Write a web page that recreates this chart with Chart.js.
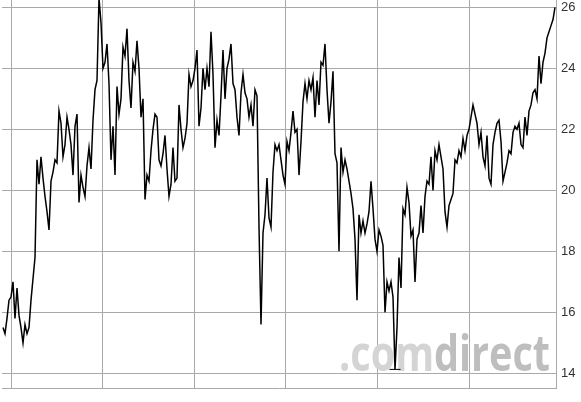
<!DOCTYPE html>
<html>
<head>
<meta charset="utf-8">
<script src="https://cdn.jsdelivr.net/npm/chart.js@4.4.1/dist/chart.umd.min.js"></script>
<style>
  html, body { margin: 0; padding: 0; background: #fff; }
  #chart { display: block; }
</style>
</head>
<body>
<canvas id="chart" width="581" height="402"></canvas>
<script>
// price samples, evenly spaced in time
const prices = [
    15.5, 15.3, 15.8, 16.4, 16.5, 17.0, 15.8, 16.8, 15.9, 15.5,
    15.0, 15.6, 15.3, 15.5, 16.4, 17.1, 17.8, 21.0, 20.2, 21.1,
    20.4, 19.8, 19.3, 18.7, 20.3, 20.6, 21.0, 20.9, 22.6, 22.2,
    21.1, 21.5, 22.4, 22.0, 21.5, 20.5, 22.1, 22.5, 19.6, 20.5,
    20.1, 19.8, 20.8, 21.4, 20.7, 22.3, 23.3, 23.6, 26.3, 25.5,
    24.0, 24.2, 24.8, 23.5, 21.0, 22.1, 20.5, 23.4, 22.5, 23.0,
    24.7, 24.4, 25.3, 23.6, 22.7, 24.2, 23.9, 24.9, 24.0, 22.4,
    23.0, 19.7, 20.5, 20.3, 21.3, 22.0, 22.5, 22.4, 21.0, 20.8,
    21.2, 21.8, 20.7, 19.8, 20.2, 21.4, 20.3, 20.4, 22.8, 22.0,
    21.4, 21.7, 22.2, 23.8, 23.4, 23.6, 24.0, 24.6, 22.1, 22.7,
    24.0, 23.3, 24.0, 23.4, 25.2, 23.8, 21.4, 22.3, 21.8, 23.1,
    24.6, 23.0, 24.0, 24.3, 24.8, 23.5, 23.3, 22.4, 21.8, 23.2,
    23.8, 23.2, 23.0, 22.4, 22.8, 22.1, 23.3, 23.1, 18.8, 15.6,
    18.6, 19.2, 20.4, 19.1, 18.8, 20.6, 21.5, 21.3, 21.5, 21.0,
    20.5, 20.2, 21.6, 21.3, 21.9, 22.6, 21.9, 22.0, 20.5, 21.6,
    22.9, 23.5, 23.0, 23.6, 23.3, 23.7, 22.4, 23.6, 22.8, 24.2,
    24.1, 24.8, 23.3, 22.2, 22.9, 23.9, 21.2, 20.9, 18.0, 21.4,
    20.6, 21.0, 20.7, 20.3, 19.9, 19.4, 18.4, 16.4, 19.2, 18.6,
    19.0, 18.6, 18.9, 19.3, 20.3, 19.4, 18.4, 18.0, 18.7, 18.5,
    18.2, 16.0, 17.0, 16.7, 17.0, 16.5, 14.13, 15.5, 17.8, 16.8,
    19.4, 19.2, 20.1, 19.6, 18.5, 18.7, 17.0, 18.4, 18.6, 19.5,
    18.6, 19.8, 20.3, 20.2, 21.1, 20.0, 21.3, 21.0, 21.5, 21.1,
    20.7, 19.3, 18.8, 19.5, 19.7, 19.9, 21.0, 20.9, 21.3, 21.1,
    21.7, 21.3, 21.8, 22.0, 22.4, 22.8, 22.5, 22.2, 21.5, 21.9,
    21.1, 20.8, 21.8, 20.4, 20.2, 21.5, 21.9, 22.2, 22.3, 21.6,
    20.3, 20.6, 20.9, 21.3, 21.2, 21.9, 22.1, 22.0, 22.2, 21.5,
    21.4, 22.4, 21.8, 22.6, 22.8, 23.2, 23.3, 23.0, 24.4, 23.5,
    24.2, 24.5, 25.0, 25.2, 25.4, 25.6, 26.0
];

// half-year grid positions (in sample units) and price ticks
const halfYearTicks = [4, 49.8, 95.6, 141.4, 187.2, 233];
const priceTicks = [14, 16, 18, 20, 22, 24, 26];
const xRange = [-0.5, 276.5];
const yRange = [13.52, 26.24];

const gridColor = "#a9a9a9";

// low marker: short horizontal bar at the period low
const lowValue = Math.min(...prices);
const lowIndex = prices.indexOf(lowValue);
const lowBar = [
    { x: lowIndex - 2.75, y: lowValue },
    { x: lowIndex + 2.75, y: lowValue },
];

const watermark = {
    id: "watermark",
    beforeDatasetsDraw(chart) {
        const ctx = chart.ctx;
        ctx.save();
        ctx.font = "bold 50px 'Open Sans', sans-serif";
        ctx.textBaseline = "alphabetic";
        const a = ".com", b = "direct";
        const wa = ctx.measureText(a).width;
        const wb = ctx.measureText(b).width;
        const sx = 211 / (wa + wb);
        ctx.translate(339, 371);
        ctx.scale(sx, 1);
        ctx.fillStyle = "#d4d4d4";
        ctx.fillText(a, 0, 0);
        ctx.fillStyle = "#bebebe";
        ctx.fillText(b, wa, 0);
        ctx.restore();
    },
};

// keep the plot flush with the canvas edges, as in the reference
const noPad = (s) => {
    s.paddingTop = 0;
    s.paddingBottom = 0;
    s.paddingLeft = 0;
    s.paddingRight = 0;
};

new Chart(document.getElementById("chart"), {
    type: "line",
    data: {
        datasets: [
            {
                data: prices.map((v, i) => ({ x: i, y: v })),
                borderColor: "#000",
                borderWidth: 1.5,
                pointRadius: 0,
                tension: 0,
            },
            {
                data: lowBar,
                borderColor: "#000",
                borderWidth: 1,
                pointRadius: 0,
            },
        ],
    },
    options: {
        responsive: false,
        animation: false,
        devicePixelRatio: 1,
        layout: { padding: { left: 2, top: 0, right: 0, bottom: 0 } },
        plugins: {
            legend: { display: false },
            tooltip: { enabled: false },
        },
        scales: {
            x: {
                type: "linear",
                min: xRange[0],
                max: xRange[1],
                afterBuildTicks: (s) => {
                    s.ticks = halfYearTicks.map((v) => ({ value: v }));
                },
                afterFit: (s) => {
                    s.height = 14;
                    noPad(s);
                },
                ticks: { display: false },
                grid: { color: gridColor, drawTicks: false },
                border: { display: true, color: gridColor },
            },
            y: {
                position: "right",
                min: yRange[0],
                max: yRange[1],
                afterBuildTicks: (s) => {
                    s.ticks = priceTicks.map((v) => ({ value: v }));
                },
                afterFit: (s) => {
                    s.width = 25;
                    noPad(s);
                },
                ticks: {
                    padding: 5,
                    color: "#333",
                    font: { size: 13, family: "'Liberation Sans', Arial, sans-serif" },
                },
                grid: { color: gridColor, drawTicks: false },
                border: { display: true, color: gridColor },
            },
        },
    },
    plugins: [watermark],
});
</script>
</body>
</html>
